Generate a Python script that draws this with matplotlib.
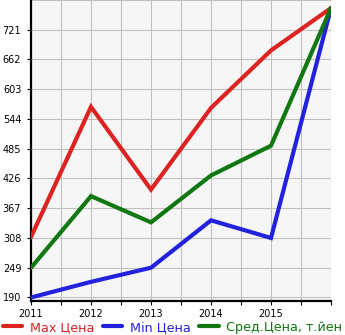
import matplotlib
matplotlib.use("Agg")
import matplotlib.pyplot as plt
from matplotlib.lines import Line2D

years = [2011, 2012, 2013, 2014, 2015, 2016]
max_price = [310, 568, 404, 566, 680, 764]
min_price = [190, 221, 249, 343, 308, 764]
avg_price = [249, 391, 339, 432, 491, 764]

y_ticks = [190, 249, 308, 367, 426, 485, 544, 603, 662, 721]
x_labels = ["2011", "2012", "2013", "2014", "2015"]

RED = "#dd2222"
BLUE = "#2222dd"
GREEN = "#117711"

fig = plt.figure(figsize=(3.45, 3.35), dpi=100)
ax = fig.add_axes([31 / 345, 34 / 335, 300 / 345, 301 / 335])
ax.set_facecolor("#f6f6f6")

for vals, col in [(max_price, RED), (min_price, BLUE), (avg_price, GREEN)]:
    ax.plot(years, vals, color=col, linewidth=3.0, solid_capstyle="round",
            solid_joinstyle="miter", zorder=3)

ax.set_xlim(2011, 2016)
ax.set_ylim(183, 780)

ax.set_yticks(y_ticks)
ax.set_yticks([780], minor=True)
ax.set_xticks([2011 + i * 0.5 for i in range(11)])
ax.set_xticklabels([x_labels[i // 2] if i % 2 == 0 and i < 10 else "" for i in range(11)])
ax.grid(True, color="#c0c0c0", linewidth=0.8, which="both")
ax.set_axisbelow(True)

for s in ["top", "right"]:
    ax.spines[s].set_visible(False)
ax.spines["left"].set_linewidth(1.6)
ax.spines["bottom"].set_linewidth(1.6)

ax.tick_params(axis="y", length=3, width=0.8, labelsize=7, pad=4)
ax.tick_params(axis="y", which="minor", length=0)
ax.tick_params(axis="x", length=3, width=0.8, labelsize=7, pad=3)

handles = [Line2D([], [], color=c, linewidth=3.0, solid_capstyle="round")
           for c in (RED, BLUE, GREEN)]
fig.legend(handles, ["Max Цена", "Min Цена", "Сред.Цена, т.йен"],
           loc="lower center", bbox_to_anchor=(0.5, -0.03), ncol=3, frameon=False,
           fontsize=9.2, handlelength=1.5, handletextpad=0.6, columnspacing=0.7,
           labelcolor="linecolor")

fig.savefig("out.png", dpi=100)
